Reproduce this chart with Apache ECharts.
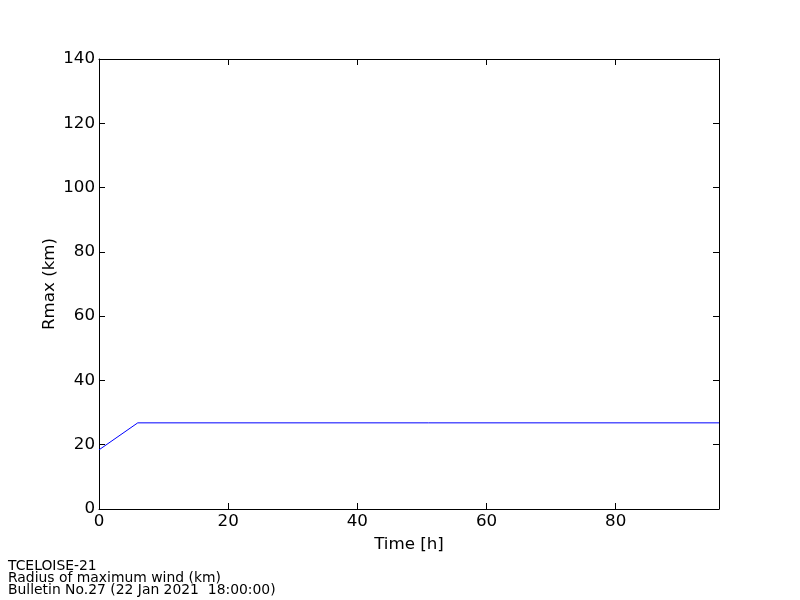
<!DOCTYPE html>
<html><head><meta charset="utf-8">
<script src="https://cdn.jsdelivr.net/npm/echarts@6/dist/echarts.min.js"></script>
<style>html,body{margin:0;padding:0;background:#fff}#c{width:800px;height:600px}</style>
</head><body><div id="c"></div>
<script>
const timeH = [0, 6, 96];
const rmaxKm = [18.4, 26.8, 26.8];
const xTicks = [0, 20, 40, 60, 80];
const yTicks = [0, 20, 40, 60, 80, 100, 120, 140];
const footerLines = ['TCELOISE-21', 'Radius of maximum wind (km)', 'Bulletin No.27 (22 Jan 2021  18:00:00)'];

const font = 'DejaVu Sans';
const chart = echarts.init(document.getElementById('c'), null, {renderer: 'canvas'});
const axLine = {show: true, onZero: false, lineStyle: {color: '#000', width: 1}};
const tick = {show: true, inside: true, length: 6, lineStyle: {color: '#000', width: 1}};
chart.setOption({
  animation: false,
  backgroundColor: '#fff',
  grid: {left: 99, right: 81, top: 59, bottom: 91, show: false},
  xAxis: [
    {type: 'value', min: 0, max: 96, interval: 20, position: 'bottom',
     axisLine: axLine, axisTick: tick, splitLine: {show: false},
     axisLabel: {fontFamily: font, fontSize: 16.7, color: '#000', margin: 4, showMaxLabel: false},
     name: 'Time [h]', nameLocation: 'middle', nameGap: 27, nameMoveOverlap: false,
     nameTextStyle: {fontFamily: font, fontSize: 16.7, color: '#000'}},
    {type: 'value', min: 0, max: 96, interval: 20, position: 'top',
     axisLine: axLine, axisTick: tick, splitLine: {show: false}, axisLabel: {show: false}}
  ],
  yAxis: [
    {type: 'value', min: 0, max: 140, interval: 20, position: 'left',
     axisLine: axLine, axisTick: tick, splitLine: {show: false},
     axisLabel: {fontFamily: font, fontSize: 16.7, color: '#000', margin: 4},
     name: 'Rmax (km)', nameLocation: 'middle', nameGap: 49, nameMoveOverlap: false,
     nameTextStyle: {fontFamily: font, fontSize: 16.7, color: '#000', verticalAlign: 'middle'}},
    {type: 'value', min: 0, max: 140, interval: 20, position: 'right',
     axisLine: axLine, axisTick: tick, splitLine: {show: false}, axisLabel: {show: false}}
  ],
  series: [{
    type: 'line', xAxisIndex: 0, yAxisIndex: 0,
    data: timeH.map((t, i) => [t, rmaxKm[i]]),
    showSymbol: false, symbol: 'none',
    lineStyle: {color: '#0000ff', width: 1}
  }],
  graphic: footerLines.map((s, i) => ({
    type: 'text', left: 8, top: 559 + i * 12,
    style: {text: s, fontFamily: font, fontSize: 13.9, fill: '#000'}
  }))
});
</script></body></html>
